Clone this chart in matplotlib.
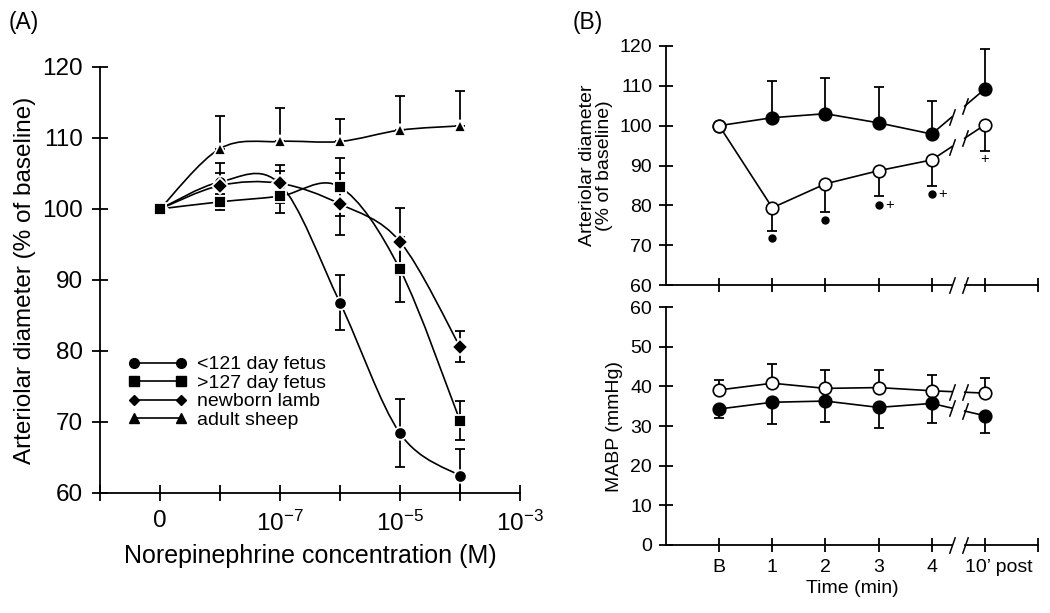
import numpy as np
import matplotlib
matplotlib.use('Agg')
import matplotlib.pyplot as plt
from matplotlib.path import Path
from matplotlib.patches import PathPatch
from matplotlib.lines import Line2D
from matplotlib.transforms import ScaledTranslation

plt.rcParams['font.family'] = ['Liberation Sans', 'DejaVu Sans']
plt.rcParams['mathtext.fontset'] = 'custom'
plt.rcParams['mathtext.rm'] = 'Liberation Sans'
plt.rcParams['mathtext.it'] = 'Liberation Sans'
plt.rcParams['mathtext.bf'] = 'Liberation Sans'

# ---- panel A: diameter vs norepinephrine (x = 0, 1e-8 ... 1e-4 M on log positions)
conc_pos = [0, 1, 2, 3, 4, 5]
conc_ticks = [0, 2, 4, 6]
conc_labels = ['0', r'$\mathregular{10^{-7}}$', r'$\mathregular{10^{-5}}$',
               r'$\mathregular{10^{-3}}$']

fetus121 = [100, 103.8, 103.5, 86.8, 68.4, 62.4]
fetus121_err = [0, 2.7, 2.7, 3.9, 4.8, 3.8]
fetus127 = [100, 101.0, 101.8, 103.1, 91.5, 70.2]
fetus127_err = [0, 1.1, 2.4, 4.1, 4.6, 2.8]
lamb = [100, 103.3, 103.6, 100.7, 95.4, 80.6]
lamb_err = [0, 1.8, 1.7, 4.4, 4.7, 2.2]
adult = [100, 108.5, 109.5, 109.5, 111.1, 111.7]
adult_err = [0, 4.6, 4.7, 3.2, 4.8, 4.9]

# ---- panel B: time course
time_pos = [0, 1, 2, 3, 4, 5]
time_labels = ['B', '1', '2', '3', '4', '10\u2019 post']

diam_filled = [100, 102.0, 103.0, 100.7, 97.9, 109.2]
diam_filled_err = [0, 9.2, 9.0, 9.0, 8.3, 10.1]
diam_open = [100, 79.4, 85.4, 88.7, 91.4, 100.2]
diam_open_err = [0, 5.8, 7.0, 6.3, 6.5, 6.5]

sig_dot_x = [1, 2, 3, 4]
sig_dot_y = [71.9, 76.2, 80.2, 82.9]
plus_x = [3.2, 4.2, 5.0]
plus_y = [80.2, 82.9, 91.7]

mabp_open = [39.1, 40.8, 39.5, 39.7, 38.9, 38.3]
mabp_open_err = [2.5, 4.8, 4.6, 4.4, 4.0, 3.9]
mabp_filled = [34.3, 36.0, 36.3, 34.7, 35.7, 32.6]
mabp_filled_err = [2.3, 5.5, 5.2, 5.1, 5.0, 4.3]


def smooth_path(x, y):
    # Catmull-Rom through the points, drawn as cubic Bezier pieces
    p = np.column_stack([x, y]).astype(float)
    ext = np.vstack([p[0], p, p[-1]])
    verts = [p[0]]
    codes = [Path.MOVETO]
    for i in range(len(p) - 1):
        p0, p1, p2, p3 = ext[i], ext[i + 1], ext[i + 2], ext[i + 3]
        verts += [p1 + (p2 - p0) / 6, p2 - (p3 - p1) / 6, p2]
        codes += [Path.CURVE4] * 3
    return Path(verts, codes)


fig = plt.figure(figsize=(10.5, 6.13), dpi=100)

# ================= panel A =================
axA = fig.add_axes([0.0952, 0.1958, 0.4, 0.695])
series = [
    (fetus121, fetus121_err, 'o', 9, False),
    (lamb, lamb_err, 'D', 8, False),
    (adult, adult_err, '^', 9, True),
    (fetus127, fetus127_err, 's', 8.5, False),
]
for vals, err, mk, ms, up_only in series:
    axA.add_patch(PathPatch(smooth_path(conc_pos, vals), fc='none',
                            ec='black', lw=1.2, zorder=2))
    lower = [0] * len(err) if up_only else err
    axA.errorbar(conc_pos, vals, yerr=[lower, err], fmt='none',
                 ecolor='black', elinewidth=1.3, capsize=3.5, capthick=1.3,
                 zorder=3)
    axA.plot(conc_pos, vals, ls='none', marker=mk, ms=ms, mfc='black',
             mec='white', mew=1.3, zorder=4)

axA.set_xlim(-1, 6)
axA.set_ylim(60, 120)
axA.set_xticks(conc_ticks)
axA.set_xticklabels(conc_labels)
axA.set_xticks([-1, 1, 3, 5], minor=True)
axA.set_yticks([60, 70, 80, 90, 100, 110, 120])
for s in ['top', 'right']:
    axA.spines[s].set_visible(False)
for s in ['left', 'bottom']:
    axA.spines[s].set_linewidth(1.3)
axA.tick_params(which='both', direction='inout', length=11, width=1.3,
                labelsize=17.5, pad=7)
axA.set_xlabel('Norepinephrine concentration (M)', fontsize=18, labelpad=6)
axA.set_ylabel('Arteriolar diameter (% of baseline)', fontsize=17.5, labelpad=4)

handles = [
    Line2D([], [], color='black', lw=1.2, marker='o', ms=7),
    Line2D([], [], color='black', lw=1.2, marker='s', ms=6.5),
    Line2D([], [], color='black', lw=1.2, marker='D', ms=5.5),
    Line2D([], [], color='black', lw=1.2, marker='^', ms=7),
]
axA.legend(handles, ['<121 day fetus', '>127 day fetus', 'newborn lamb',
                     'adult sheep'],
           numpoints=2, handlelength=3.0, handletextpad=0.5,
           labelspacing=0.05, frameon=False, fontsize=14,
           loc='upper left', bbox_to_anchor=(0.045, 0.345), borderpad=0)

fig.text(0.008, 0.963, '(A)', fontsize=16.5, va='center')
fig.text(0.545, 0.963, '(B)', fontsize=16.5, va='center')

# ================= panel B =================
slash = Path([(-0.35, -1), (0.35, 1)], [Path.MOVETO, Path.LINETO])
brk0, brk1 = 4.38, 4.62


def broken_series(ax, vals, mfc):
    x = np.asarray(time_pos, float)
    y = np.asarray(vals, float)
    ax.plot(x[:5], y[:5], color='black', lw=1.2, zorder=2)
    ya = y[4] + (y[5] - y[4]) * (brk0 - x[4])
    yb = y[4] + (y[5] - y[4]) * (brk1 - x[4])
    ax.plot([x[4], brk0], [y[4], ya], color='black', lw=1.2, zorder=2)
    ax.plot([brk1, x[5]], [yb, y[5]], color='black', lw=1.2, zorder=2)
    ax.plot([brk0, brk1], [ya, yb], ls='none', marker=slash, ms=12,
            mec='black', mew=1.1, zorder=2)
    ax.plot(x, y, ls='none', marker='o', ms=9, mfc=mfc, mec='black',
            mew=1.2, zorder=4)


def style_b(ax, ylim, yticks):
    ax.set_xlim(-1, 6)
    ax.set_ylim(*ylim)
    ax.set_yticks(yticks)
    ax.set_xticks([0, 1, 2, 3, 4, 5, 6])
    for s in ['top', 'right', 'bottom']:
        ax.spines[s].set_visible(False)
    ax.spines['left'].set_linewidth(1.3)
    ax.tick_params(which='both', direction='inout', length=10, width=1.3,
                   labelsize=14, pad=5)
    tr = ax.get_xaxis_transform()
    ax.plot([-1, brk0], [0, 0], color='black', lw=1.3, transform=tr,
            clip_on=False, zorder=5)
    ax.plot([brk1, 6], [0, 0], color='black', lw=1.3, transform=tr,
            clip_on=False, zorder=5)
    ax.plot([brk0, brk1], [0, 0], ls='none', marker=slash, ms=12,
            mec='black', mew=1.1, transform=tr, clip_on=False, zorder=5)


axB1 = fig.add_axes([0.6343, 0.535, 0.3543, 0.39])
axB1.errorbar(time_pos, diam_filled, yerr=[[0] * 6, diam_filled_err],
              fmt='none', ecolor='black', elinewidth=1.3, capsize=3.5,
              capthick=1.3, zorder=3)
axB1.errorbar(time_pos, diam_open, yerr=[diam_open_err, [0] * 6],
              fmt='none', ecolor='black', elinewidth=1.3, capsize=3.5,
              capthick=1.3, zorder=3)
broken_series(axB1, diam_filled, 'black')
broken_series(axB1, diam_open, 'white')
axB1.plot(sig_dot_x, sig_dot_y, ls='none', marker='o', ms=5, color='black')
for px, py in zip(plus_x, plus_y):
    axB1.text(px, py, '+', fontsize=10.5, ha='center', va='center')
style_b(axB1, (60, 120), [60, 70, 80, 90, 100, 110, 120])
axB1.set_xticklabels([])
axB1.set_ylabel('Arteriolar diameter\n(% of baseline)', fontsize=14,
                linespacing=0.95, labelpad=5)

axB2 = fig.add_axes([0.6343, 0.111, 0.3543, 0.388])
axB2.errorbar(time_pos, mabp_open, yerr=[[0] * 6, mabp_open_err],
              fmt='none', ecolor='black', elinewidth=1.3, capsize=3.5,
              capthick=1.3, zorder=3)
axB2.errorbar(time_pos, mabp_filled, yerr=[mabp_filled_err, [0] * 6],
              fmt='none', ecolor='black', elinewidth=1.3, capsize=3.5,
              capthick=1.3, zorder=3)
broken_series(axB2, mabp_open, 'white')
broken_series(axB2, mabp_filled, 'black')
style_b(axB2, (0, 60), [0, 10, 20, 30, 40, 50, 60])
axB2.set_xticks([0, 1, 2, 3, 4, 5, 6])
axB2.set_xticklabels(time_labels + [''])
# the "10' post" label sits a little right of its tick in the original
post_lab = axB2.get_xticklabels()[5]
post_lab.set_transform(post_lab.get_transform()
                       + ScaledTranslation(0.14, 0, fig.dpi_scale_trans))
axB2.set_xlabel('Time (min)', fontsize=14, labelpad=3)
axB2.set_ylabel('MABP (mmHg)', fontsize=14, labelpad=5)

fig.savefig('out.png', dpi=100)
